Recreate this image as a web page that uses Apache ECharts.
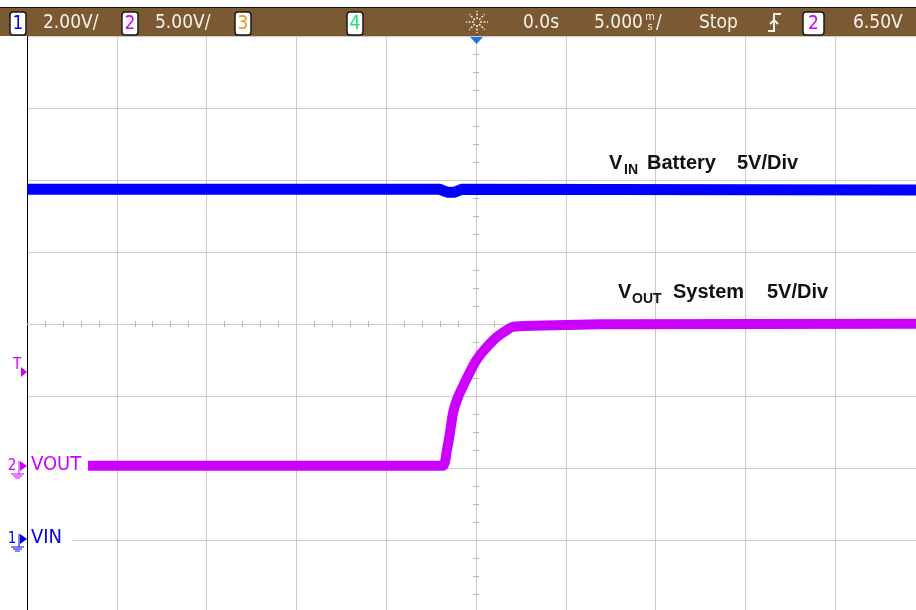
<!DOCTYPE html>
<html>
<head>
<meta charset="utf-8">
<script src="https://cdn.jsdelivr.net/npm/echarts@6/dist/echarts.min.js"></script>
<style>
  html, body { margin: 0; padding: 0; background: #fff; }
  #main { width: 916px; height: 610px; }
</style>
</head>
<body>
<div id="main"></div>
<script>
// scope settings
var timePerDiv = 5;                     // ms/div
var vinScale = 2, vinGround = -3;       // ch1 V/div, ground level in divisions
var voutScale = 5, voutGround = -1.97;  // ch2 V/div, ground level in divisions

// ch1 VIN (battery)
var vinTime  = [-25, -2.0, -1.6, -1.2, -0.8, 24.5];
var vinVolts = [9.74, 9.74, 9.66, 9.66, 9.74, 9.72];

// ch2 VOUT (system)
var voutTime  = [-21.6, -1.84, -1.62, -1.45, -1.28, -1.0, -0.61, -0.22, 0.11, 0.61, 1.17, 1.73, 2.06, 3.17, 6.9, 24.5];
var voutVolts = [0, 0, 1.1, 2.29, 3.68, 4.79, 5.83, 6.81, 7.50, 8.26, 8.96, 9.44, 9.65, 9.72, 9.83, 9.86];

// status bar texts
var headerTexts = ['2.00V/', '5.00V/', '0.0s', '5.000', 'Stop', '6.50V'];

var chColors = { 1: '#0000ff', 2: '#cc00ff', 3: '#e39b1e', 4: '#1fe07a' };
var scopeFont = '"DejaVu Sans Condensed", "Liberation Sans Narrow", "DejaVu Sans", sans-serif';
var boldFont = '"Liberation Sans", Arial, sans-serif';

function toDivs(times, volts, scale, ground) {
  return times.map(function (t, i) { return [t, volts[i] / scale + ground]; });
}

var chart = echarts.init(document.getElementById('main'));

var gridColor = '#cbcbcb';
var minorTickStyle = { color: '#b8b8b8', width: 1 };

function boxNum(x, w, num, color) {
  return [
    { type: 'rect', shape: { x: x, y: 12, width: w, height: 23, r: 3 },
      style: { fill: '#fff', stroke: '#1a1a1a', lineWidth: 1.5 }, z: 20 },
    { type: 'text', x: x + w / 2, y: 24,
      style: { text: String(num), fill: color, font: '19px ' + scopeFont, align: 'center', verticalAlign: 'middle' }, z: 21 }
  ];
}

function headerText(x, txt) {
  return { type: 'text', x: x, y: 23,
    style: { text: txt, fill: '#f5f1ea', font: '19px ' + scopeFont, align: 'left', verticalAlign: 'middle' }, z: 20 };
}

function chanMarker(y, num, color, label, labelW) {
  return [
    { type: 'text', x: 12, y: y, style: { text: String(num), fill: color, font: '15px ' + scopeFont, align: 'center', verticalAlign: 'middle' }, z: 20 },
    { type: 'line', shape: { x1: 19, y1: y - 5, x2: 19, y2: y + 8 }, style: { stroke: color, lineWidth: 1 }, z: 20 },
    { type: 'polygon', shape: { points: [[20, y - 5], [27, y], [20, y + 5]] }, style: { fill: color }, z: 20 },
    { type: 'line', shape: { x1: 11, y1: y + 8, x2: 24, y2: y + 8 }, style: { stroke: color, lineWidth: 1 }, z: 20 },
    { type: 'line', shape: { x1: 13, y1: y + 10, x2: 22, y2: y + 10 }, style: { stroke: color, lineWidth: 1 }, z: 20 },
    { type: 'line', shape: { x1: 15, y1: y + 12, x2: 20, y2: y + 12 }, style: { stroke: color, lineWidth: 1 }, z: 20 },
    { type: 'rect', shape: { x: 28, y: y - 10, width: labelW, height: 20 }, style: { fill: '#fff' }, z: 19 },
    { type: 'text', x: 31, y: y - 1, style: { text: label, fill: color, font: '20px ' + scopeFont, align: 'left', verticalAlign: 'middle' }, z: 20 }
  ];
}

var graphics = [];
// status bar
graphics.push({ type: 'rect', shape: { x: 0, y: 8, width: 916, height: 28 }, style: { fill: '#7b5a33' }, z: 15 });
graphics.push({ type: 'line', shape: { x1: 0, y1: 7.5, x2: 916, y2: 7.5 }, style: { stroke: '#111', lineWidth: 1 }, z: 16 });
graphics = graphics.concat(boxNum(10, 16, 1, chColors[1]), boxNum(122, 16, 2, chColors[2]),
  boxNum(235, 16, 3, chColors[3]), boxNum(347, 16, 4, chColors[4]), boxNum(803, 21, 2, chColors[2]));
graphics.push(headerText(43, headerTexts[0]), headerText(155, headerTexts[1]), headerText(523, headerTexts[2]),
  headerText(594, headerTexts[3]), headerText(699, headerTexts[4]), headerText(853, headerTexts[5]));
// stacked "ms" unit and slash
graphics.push({ type: 'text', x: 650, y: 17, style: { text: 'm', fill: '#f5f1ea', font: '11px ' + scopeFont, align: 'center', verticalAlign: 'middle' }, z: 20 });
graphics.push({ type: 'text', x: 650, y: 27, style: { text: 's', fill: '#f5f1ea', font: '11px ' + scopeFont, align: 'center', verticalAlign: 'middle' }, z: 20 });
graphics.push(headerText(656, '/'));
// acquisition (sun) icon
for (var a = 0; a < 8; a++) {
  var ang = a * Math.PI / 4;
  graphics.push({ type: 'line', shape: { x1: 477 + 3 * Math.cos(ang), y1: 22 + 3 * Math.sin(ang), x2: 477 + 11 * Math.cos(ang), y2: 22 + 11 * Math.sin(ang) },
    style: { stroke: '#f3e6d2', lineWidth: 1.6, lineDash: [2, 1.5] }, z: 20 });
}
// trigger edge symbol
graphics.push({ type: 'polyline', shape: { points: [[768, 31], [774, 31], [774, 14], [781, 14]] }, style: { stroke: '#f5f1ea', lineWidth: 2, fill: null }, z: 20 });
graphics.push({ type: 'polyline', shape: { points: [[770, 24], [774, 20], [778, 24]] }, style: { stroke: '#f5f1ea', lineWidth: 2, fill: null }, z: 20 });
// trigger position marker (top)
graphics.push({ type: 'polygon', shape: { points: [[470, 37], [483, 37], [476.5, 44]] }, style: { fill: '#1f74e0' }, z: 20 });
// trigger level marker (left)
graphics.push({ type: 'text', x: 17, y: 365, style: { text: 'T', fill: chColors[2], font: '15px ' + scopeFont, align: 'center', verticalAlign: 'middle' }, z: 20 });
graphics.push({ type: 'polygon', shape: { points: [[21, 367], [27, 372], [21, 377]] }, style: { fill: chColors[2] }, z: 20 });
// channel ground markers and labels
graphics = graphics.concat(chanMarker(466, 2, chColors[2], 'VOUT', 58), chanMarker(539, 1, '#0000e6', 'VIN', 44));
// annotations
function bold(x, y, txt, size) {
  return { type: 'text', x: x, y: y, style: { text: txt, fill: '#111', font: 'bold ' + size + 'px ' + boldFont, align: 'left', verticalAlign: 'middle' }, z: 20 };
}
graphics.push(bold(609, 163, 'V', 20), bold(624, 170, 'IN', 14), bold(647, 163, 'Battery', 20), bold(737, 163, '5V/Div', 20));
graphics.push(bold(618, 292, 'V', 20), bold(632, 299, 'OUT', 14), bold(673, 292, 'System', 20), bold(767, 292, '5V/Div', 20));

var xBase = { type: 'value', min: -5 * timePerDiv, max: 5 * timePerDiv, interval: timePerDiv,
  axisLabel: { show: false }, axisTick: { show: false } };
var yBase = { type: 'value', min: -4, max: 4, interval: 1, axisLabel: { show: false }, axisTick: { show: false } };

var option = {
  animation: false,
  backgroundColor: '#fff',
  grid: { left: 27, top: 36, width: 898, height: 576, outerBoundsMode: 'none', containLabel: false },
  xAxis: [
    Object.assign({}, xBase, { position: 'bottom',
      axisLine: { show: true, onZero: true, lineStyle: { color: gridColor, width: 1 } },
      splitLine: { show: true, lineStyle: { color: gridColor, width: 1 } },
      minorTick: { show: true, splitNumber: 5, length: 3, lineStyle: minorTickStyle } }),
    Object.assign({}, xBase, { position: 'top',
      axisLine: { show: false, onZero: true },
      splitLine: { show: false },
      minorTick: { show: true, splitNumber: 5, length: 3, lineStyle: minorTickStyle } })
  ],
  yAxis: [
    Object.assign({}, yBase, { position: 'left',
      axisLine: { show: true, onZero: false, lineStyle: { color: '#000', width: 1 } },
      splitLine: { show: true, lineStyle: { color: gridColor, width: 1 } } }),
    Object.assign({}, yBase, { position: 'right',
      axisLine: { show: true, onZero: true, lineStyle: { color: gridColor, width: 1 } },
      splitLine: { show: false },
      minorTick: { show: true, splitNumber: 4, length: 3, lineStyle: minorTickStyle } }),
    Object.assign({}, yBase, { position: 'left',
      axisLine: { show: false, onZero: true },
      splitLine: { show: false },
      minorTick: { show: true, splitNumber: 4, length: 3, lineStyle: minorTickStyle } })
  ],
  series: [
    {
      name: 'VIN', type: 'line', xAxisIndex: 0, yAxisIndex: 0,
      data: toDivs(vinTime, vinVolts, vinScale, vinGround),
      showSymbol: false, smooth: false, z: 5,
      lineStyle: { color: '#0000ff', width: 11, cap: 'butt', join: 'round' }
    },
    {
      name: 'VOUT', type: 'line', xAxisIndex: 0, yAxisIndex: 0,
      data: toDivs(voutTime, voutVolts, voutScale, voutGround),
      showSymbol: false, smooth: 0.15, z: 5,
      lineStyle: { color: '#cc00ff', width: 10, cap: 'butt', join: 'round' }
    }
  ],
  graphic: graphics
};

chart.setOption(option);
</script>
</body>
</html>
